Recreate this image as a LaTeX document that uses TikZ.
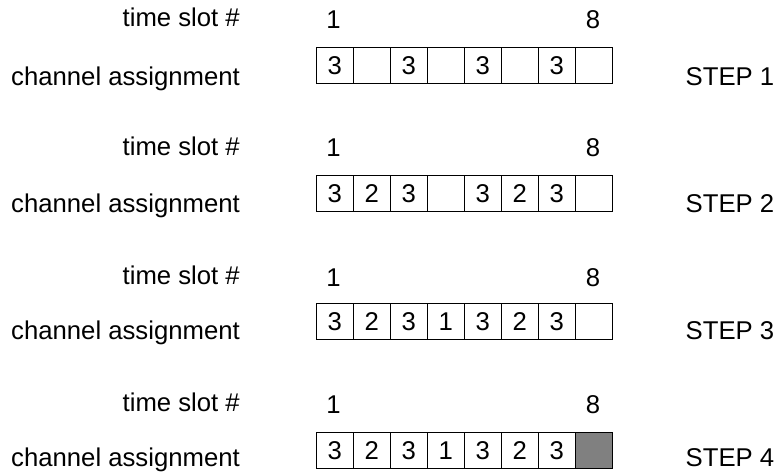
\documentclass[tikz,border=0pt]{standalone}
\usepackage{fontspec}
\setmainfont{Liberation Sans}
\begin{document}
\begin{tikzpicture}[x=1pt,y=-1pt,
  every node/.style={font=\fontsize{25.7}{30}\selectfont, inner sep=0pt},
  cell/.style={draw=black, line width=1pt, minimum width=37pt, minimum height=36.7pt, anchor=north west},
  shaded/.style={cell, fill=black!50},
  lbl/.style={anchor=base east},
  steplbl/.style={anchor=base west},
  num/.style={anchor=base}]
\useasboundingbox (0,0) rectangle (777,475);
% row r: box top, number baseline, bottom label baseline
\foreach \r/\T/\nb/\cb/\cells in {
  1/46.5/28.3/85/{3,,3,,3,,3,},
  2/174.5/156.7/212.5/{3,2,3,,3,2,3,},
  3/302.5/286/339.3/{3,2,3,1,3,2,3,},
  4/431.7/413.3/466.7/{3,2,3,1,3,2,3,}}{
  \node[lbl] (ts\r) at (240,\nb-1.5) {time slot \#};
  \node[lbl] (ca\r) at (240,\cb) {channel assignment};
  \node[steplbl] (st\r) at (685.5,\cb) {STEP \r};
  \node[num] (one\r) at (333.5,\nb) {1};
  \node[num] (eight\r) at (593,\nb) {8};
  \foreach \v [count=\c] in \cells {
    \ifnum\r=4 \ifnum\c=8
      \node[shaded] (c\r-\c) at ({315.7+37*(\c-1)},\T) {};
    \else
      \node[cell] (c\r-\c) at ({315.7+37*(\c-1)},\T) {\v};
    \fi\else
      \node[cell] (c\r-\c) at ({315.7+37*(\c-1)},\T) {\v};
    \fi
  }
}
\end{tikzpicture}
\end{document}
